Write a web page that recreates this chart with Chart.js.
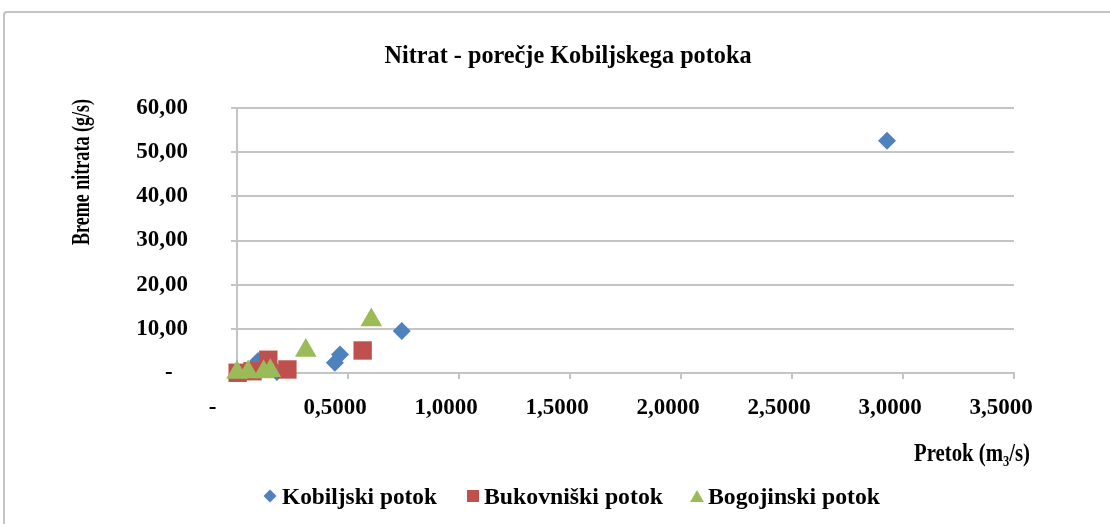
<!DOCTYPE html>
<html>
<head>
<meta charset="utf-8">
<script src="https://cdn.jsdelivr.net/npm/chart.js@4"></script>
<style>
  html, body { margin: 0; padding: 0; background: #fff; overflow: hidden; }
  #wrap { position: relative; width: 1110px; height: 524px; }
  #frame { position: absolute; left: 3px; top: 11px; width: 1200px; height: 600px;
           border-top: 2px solid #c4c4c4; border-left: 2px solid #c4c4c4; border-top-left-radius: 4px; }
  canvas { position: absolute; left: 0; top: 0; }
</style>
</head>
<body>
<div id="wrap">
  <div id="frame"></div>
  <canvas id="c" width="1110" height="524"></canvas>
</div>
<script>
// Series: flow (m3/s) vs. nitrate load (g/s)
const seriesNames = ['Kobiljski potok', 'Bukovniški potok', 'Bogojinski potok'];

const kobiljskiX = [2.928, 0.742, 0.464, 0.441, 0.095, 0.18];
const kobiljskiY = [52.6, 9.5, 4.2, 2.3, 2.7, 0.2];

const bukovniskiX = [0.566, 0.141, 0.227, 0.003, 0.07];
const bukovniskiY = [5.1, 3.0, 0.8, 0.05, 0.4];

const bogojinskiX = [0.605, 0.31, 0.0, 0.05, 0.12, 0.15];
const bogojinskiY = [12.0, 5.1, 0.1, 0.2, 0.2, 0.5];

const xTickValues = [0, 0.5, 1.0, 1.5, 2.0, 2.5, 3.0, 3.5];
const yTickValues = [0, 10, 20, 30, 40, 50, 60];

const colors = ['#4f81bd', '#c0504d', '#9bbb59'];
const styles = ['rectRot', 'rect', 'triangle'];
const radii = [9, 13, 12.5];

const toPoints = (xs, ys) => xs.map((x, i) => ({ x: x, y: ys[i] }));
const seriesData = [
  toPoints(kobiljskiX, kobiljskiY),
  toPoints(bukovniskiX, bukovniskiY),
  toPoints(bogojinskiX, bogojinskiY)
];

const SERIF = '"Liberation Serif", "Times New Roman", serif';
const gridColor = '#c4c4c4';

// draws text squeezed horizontally so it never exceeds maxW
function fitText(ctx, text, x, y, maxW, align) {
  const w = ctx.measureText(text).width;
  const s = Math.min(1, maxW / w);
  ctx.save();
  ctx.translate(x, y);
  ctx.scale(s, 1);
  ctx.textAlign = align || 'center';
  ctx.fillText(text, 0, 0);
  ctx.restore();
  return w * s;
}

const textPlugin = {
  id: 'chartTexts',
  afterDraw(chart) {
    const ctx = chart.ctx;
    ctx.save();
    ctx.fillStyle = '#000';
    ctx.textBaseline = 'alphabetic';

    // title
    ctx.font = 'bold 26px ' + SERIF;
    fitText(ctx, 'Nitrat - porečje Kobiljskega potoka', 568, 63, 367, 'center');

    // y axis title
    ctx.save();
    ctx.translate(89, 172);
    ctx.rotate(-Math.PI / 2);
    ctx.font = 'bold 26px ' + SERIF;
    fitText(ctx, 'Breme nitrata (g/s)', 0, 0, 146, 'center');
    ctx.restore();

    // x axis title with subscript, squeezed to its box
    const base = 461;
    const parts = [['Pretok (m', 25, 0], ['3', 15, 5], ['/s)', 25, 0]];
    let total = 0;
    parts.forEach(p => { ctx.font = 'bold ' + p[1] + 'px ' + SERIF; total += ctx.measureText(p[0]).width; });
    const sx = Math.min(1, 116 / total);
    ctx.save();
    ctx.translate(914, base);
    ctx.scale(sx, 1);
    ctx.textAlign = 'left';
    let x = 0;
    parts.forEach(p => {
      ctx.font = 'bold ' + p[1] + 'px ' + SERIF;
      ctx.fillText(p[0], x, p[2]);
      x += ctx.measureText(p[0]).width;
    });
    ctx.restore();

    // legend
    const markerX = [270, 473, 697];
    const textX = [282, 484, 708];
    const textW = [155, 179, 172];
    const legendRadius = [6.5, 8.5, 8];
    ctx.font = 'bold 24px ' + SERIF;
    for (let i = 0; i < seriesNames.length; i++) {
      ctx.fillStyle = colors[i];
      Chart.helpers.drawPoint(ctx, { pointStyle: styles[i], radius: legendRadius[i], rotation: 0, borderWidth: 0 }, markerX[i], 496 + (i === 2 ? 2 : 0));
      ctx.fillStyle = '#000';
      fitText(ctx, seriesNames[i], textX[i], 504, textW[i], 'left');
    }
    ctx.restore();
  }
};

// accounting-style labels: zero shows as a dash followed by padding
const fmtX = v => v === 0 ? '-\u2002\u2002' : v.toFixed(4).replace('.', ',');
const fmtY = v => v === 0 ? '-\u2002\u2006' : v.toFixed(2).replace('.', ',');

new Chart(document.getElementById('c'), {
  type: 'scatter',
  data: {
    datasets: seriesData.map((pts, i) => ({
      label: seriesNames[i],
      data: pts,
      pointStyle: styles[i],
      pointRadius: radii[i],
      pointHoverRadius: radii[i],
      pointBackgroundColor: colors[i],
      pointBorderWidth: 0,
      borderColor: colors[i],
      backgroundColor: colors[i],
      showLine: false,
      clip: false,
      order: 3 - i
    }))
  },
  options: {
    responsive: false,
    animation: false,
    events: [],
    layout: { padding: { left: 10, top: 108, right: 96, bottom: 0 } },
    plugins: { legend: { display: false }, title: { display: false }, tooltip: { enabled: false } },
    scales: {
      x: {
        type: 'linear',
        min: xTickValues[0],
        max: xTickValues[xTickValues.length - 1],
        afterBuildTicks: s => { s.ticks = xTickValues.map(v => ({ value: v })); },
        afterFit: s => { s.height = 151; },
        ticks: {
          callback: fmtX,
          font: { family: SERIF, size: 23, weight: 'bold' },
          color: '#000',
          padding: 15,
          labelOffset: -13,
          maxRotation: 0,
          autoSkip: false
        },
        grid: { drawOnChartArea: false, drawTicks: true, tickLength: 6, color: gridColor, lineWidth: 2 },
        border: { display: true, color: gridColor, width: 2 }
      },
      y: {
        type: 'linear',
        min: yTickValues[0],
        max: yTickValues[yTickValues.length - 1],
        afterBuildTicks: s => { s.ticks = yTickValues.map(v => ({ value: v })); },
        afterFit: s => { s.width = 227; },
        ticks: {
          callback: fmtY,
          font: { family: SERIF, size: 23, weight: 'bold' },
          color: '#000',
          padding: 43
        },
        grid: { drawOnChartArea: true, drawTicks: true, tickLength: 6, color: gridColor, lineWidth: 2 },
        border: { display: true, color: gridColor, width: 2 }
      }
    }
  },
  plugins: [textPlugin]
});
</script>
</body>
</html>
